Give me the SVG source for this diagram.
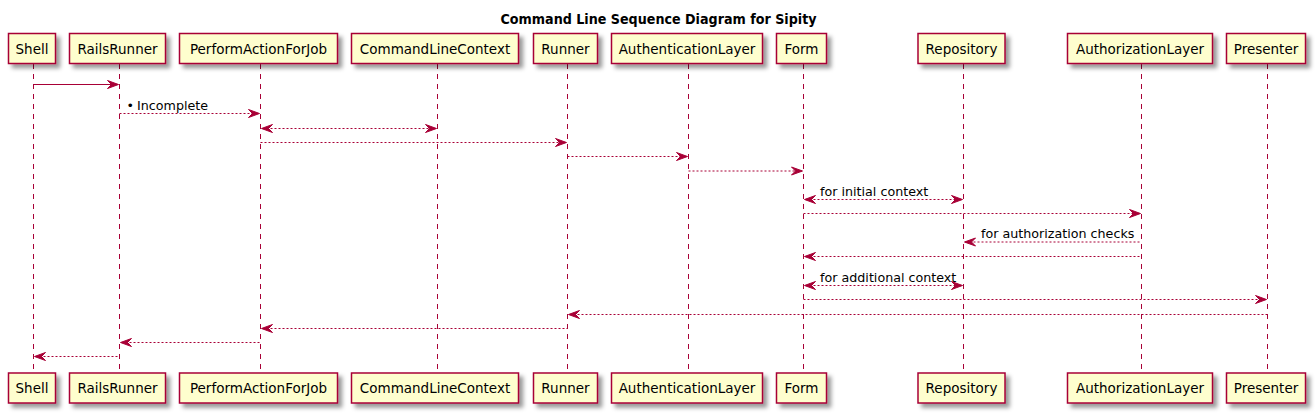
<svg xmlns="http://www.w3.org/2000/svg" width="1316" height="414" viewBox="0 0 1316 414">
<defs>
<filter id="sh" x="-1" y="-1" width="300%" height="300%">
<feGaussianBlur result="blurOut" stdDeviation="2"/>
<feColorMatrix in="blurOut" result="blurOut2" type="matrix" values="0 0 0 0 0 0 0 0 0 0 0 0 0 0 0 0 0 0 .4 0"/>
<feOffset dx="4" dy="4" in="blurOut2" result="blurOut3"/>
<feBlend in="SourceGraphic" in2="blurOut3" mode="normal"/>
</filter>
</defs>
<style>
.box{fill:#FEFECE;stroke:#A80036;stroke-width:1.5;filter:url(#sh)}
.life{stroke:#A80036;stroke-width:1;stroke-dasharray:5,5;fill:none}
.name{font-family:"DejaVu Sans",sans-serif;font-size:13.5px;fill:#000;text-anchor:middle}
.msg{stroke:#A80036;stroke-width:1;fill:none}
.dash{stroke-dasharray:2,2}
.head{fill:#A80036;stroke:#A80036;stroke-width:1}
.lbl{font-family:"DejaVu Sans",sans-serif;font-size:12.7px;fill:#000}
.title{font-family:"DejaVu Sans",sans-serif;font-size:13.5px;font-weight:bold;fill:#000;text-anchor:middle}
</style>
<rect width="1316" height="414" fill="#FFFFFF"/>
<text class="title" x="658.5" y="24" textLength="316" lengthAdjust="spacingAndGlyphs">Command Line Sequence Diagram for Sipity</text>

<g id="lifelines">
<line class="life" x1="33.5" y1="64" x2="33.5" y2="372"/>
<line class="life" x1="119.5" y1="64" x2="119.5" y2="372"/>
<line class="life" x1="260.5" y1="64" x2="260.5" y2="372"/>
<line class="life" x1="437.5" y1="64" x2="437.5" y2="372"/>
<line class="life" x1="567.5" y1="64" x2="567.5" y2="372"/>
<line class="life" x1="688.5" y1="64" x2="688.5" y2="372"/>
<line class="life" x1="803.5" y1="64" x2="803.5" y2="372"/>
<line class="life" x1="963.5" y1="64" x2="963.5" y2="372"/>
<line class="life" x1="1141.5" y1="64" x2="1141.5" y2="372"/>
<line class="life" x1="1267.5" y1="64" x2="1267.5" y2="372"/>
</g>

<g id="Shell">
<rect class="box" x="8.5" y="33.5" width="47" height="30"/>
<text class="name" x="32" y="53.5">Shell</text>
<rect class="box" x="8.5" y="373" width="47" height="30"/>
<text class="name" x="32" y="393">Shell</text>
</g>
<g id="RailsRunner">
<rect class="box" x="69.5" y="33.5" width="96" height="30"/>
<text class="name" x="117.5" y="53.5">RailsRunner</text>
<rect class="box" x="69.5" y="373" width="96" height="30"/>
<text class="name" x="117.5" y="393">RailsRunner</text>
</g>
<g id="PerformActionForJob">
<rect class="box" x="179.5" y="33.5" width="158" height="30"/>
<text class="name" x="258.5" y="53.5">PerformActionForJob</text>
<rect class="box" x="179.5" y="373" width="158" height="30"/>
<text class="name" x="258.5" y="393">PerformActionForJob</text>
</g>
<g id="CommandLineContext">
<rect class="box" x="351.5" y="33.5" width="167" height="30"/>
<text class="name" x="435" y="53.5">CommandLineContext</text>
<rect class="box" x="351.5" y="373" width="167" height="30"/>
<text class="name" x="435" y="393">CommandLineContext</text>
</g>
<g id="Runner">
<rect class="box" x="533.5" y="33.5" width="64" height="30"/>
<text class="name" x="565.5" y="53.5">Runner</text>
<rect class="box" x="533.5" y="373" width="64" height="30"/>
<text class="name" x="565.5" y="393">Runner</text>
</g>
<g id="AuthenticationLayer">
<rect class="box" x="611.5" y="33.5" width="151" height="30"/>
<text class="name" x="687" y="53.5">AuthenticationLayer</text>
<rect class="box" x="611.5" y="373" width="151" height="30"/>
<text class="name" x="687" y="393">AuthenticationLayer</text>
</g>
<g id="Form">
<rect class="box" x="776.5" y="33.5" width="50" height="30"/>
<text class="name" x="801.5" y="53.5">Form</text>
<rect class="box" x="776.5" y="373" width="50" height="30"/>
<text class="name" x="801.5" y="393">Form</text>
</g>
<g id="Repository">
<rect class="box" x="918" y="33.5" width="87" height="30"/>
<text class="name" x="961.5" y="53.5">Repository</text>
<rect class="box" x="918" y="373" width="87" height="30"/>
<text class="name" x="961.5" y="393">Repository</text>
</g>
<g id="AuthorizationLayer">
<rect class="box" x="1067.5" y="33.5" width="145" height="30"/>
<text class="name" x="1140" y="53.5">AuthorizationLayer</text>
<rect class="box" x="1067.5" y="373" width="145" height="30"/>
<text class="name" x="1140" y="393">AuthorizationLayer</text>
</g>
<g id="Presenter">
<rect class="box" x="1226.5" y="33.5" width="79" height="30"/>
<text class="name" x="1266" y="53.5">Presenter</text>
<rect class="box" x="1226.5" y="373" width="79" height="30"/>
<text class="name" x="1266" y="393">Presenter</text>
</g>

<g id="connectors">
<!-- 1 -->
<line class="msg" x1="33.5" y1="84.5" x2="117.5" y2="84.5"/>
<polygon class="head" points="107.5,80.5 118.5,84.5 107.5,88.5 111.5,84.5"/>
<!-- 2 -->
<line class="msg dash" x1="119.5" y1="113.5" x2="258.5" y2="113.5"/>
<polygon class="head" points="248.5,109.5 259.5,113.5 248.5,117.5 252.5,113.5"/>
<text class="lbl" x="126.5" y="110">•<tspan x="137">Incomplete</tspan></text>
<!-- 3 -->
<line class="msg dash" x1="262.5" y1="128.5" x2="435.5" y2="128.5"/>
<polygon class="head" points="272.5,124.5 261.5,128.5 272.5,132.5 268.5,128.5"/>
<polygon class="head" points="425.5,124.5 436.5,128.5 425.5,132.5 429.5,128.5"/>
<!-- 4 -->
<line class="msg dash" x1="260.5" y1="142.5" x2="565.5" y2="142.5"/>
<polygon class="head" points="555.5,138.5 566.5,142.5 555.5,146.5 559.5,142.5"/>
<!-- 5 -->
<line class="msg dash" x1="567.5" y1="156.5" x2="686.5" y2="156.5"/>
<polygon class="head" points="676.5,152.5 687.5,156.5 676.5,160.5 680.5,156.5"/>
<!-- 6 -->
<line class="msg dash" x1="688.5" y1="171" x2="801.5" y2="171"/>
<polygon class="head" points="791.5,167 802.5,171 791.5,175 795.5,171"/>
<!-- 7 -->
<line class="msg dash" x1="805.5" y1="199.5" x2="961.5" y2="199.5"/>
<polygon class="head" points="815.5,195.5 804.5,199.5 815.5,203.5 811.5,199.5"/>
<polygon class="head" points="951.5,195.5 962.5,199.5 951.5,203.5 955.5,199.5"/>
<text class="lbl" x="820" y="195.5">for initial context</text>
<!-- 8 -->
<line class="msg dash" x1="803.5" y1="213.5" x2="1139.5" y2="213.5"/>
<polygon class="head" points="1129.5,209.5 1140.5,213.5 1129.5,217.5 1133.5,213.5"/>
<!-- 9 -->
<line class="msg dash" x1="965.5" y1="242" x2="1141.5" y2="242"/>
<polygon class="head" points="975.5,238 964.5,242 975.5,246 971.5,242"/>
<text class="lbl" x="981" y="238">for authorization checks</text>
<!-- 10 -->
<line class="msg dash" x1="805.5" y1="256.5" x2="1141.5" y2="256.5"/>
<polygon class="head" points="815.5,252.5 804.5,256.5 815.5,260.5 811.5,256.5"/>
<!-- 11 -->
<line class="msg dash" x1="805.5" y1="285.5" x2="961.5" y2="285.5"/>
<polygon class="head" points="815.5,281.5 804.5,285.5 815.5,289.5 811.5,285.5"/>
<polygon class="head" points="951.5,281.5 962.5,285.5 951.5,289.5 955.5,285.5"/>
<text class="lbl" x="820" y="281.5">for additional context</text>
<!-- 12 -->
<line class="msg dash" x1="803.5" y1="299.5" x2="1265.5" y2="299.5"/>
<polygon class="head" points="1255.5,295.5 1266.5,299.5 1255.5,303.5 1259.5,299.5"/>
<!-- 13 -->
<line class="msg dash" x1="569.5" y1="314.5" x2="1267.5" y2="314.5"/>
<polygon class="head" points="579.5,310.5 568.5,314.5 579.5,318.5 575.5,314.5"/>
<!-- 14 -->
<line class="msg dash" x1="262.5" y1="328.5" x2="567.5" y2="328.5"/>
<polygon class="head" points="272.5,324.5 261.5,328.5 272.5,332.5 268.5,328.5"/>
<!-- 15 -->
<line class="msg dash" x1="121.5" y1="342.5" x2="260.5" y2="342.5"/>
<polygon class="head" points="131.5,338.5 120.5,342.5 131.5,346.5 127.5,342.5"/>
<!-- 16 -->
<line class="msg dash" x1="35.5" y1="356.5" x2="119.5" y2="356.5"/>
<polygon class="head" points="45.5,352.5 34.5,356.5 45.5,360.5 41.5,356.5"/>
</g>
</svg>
